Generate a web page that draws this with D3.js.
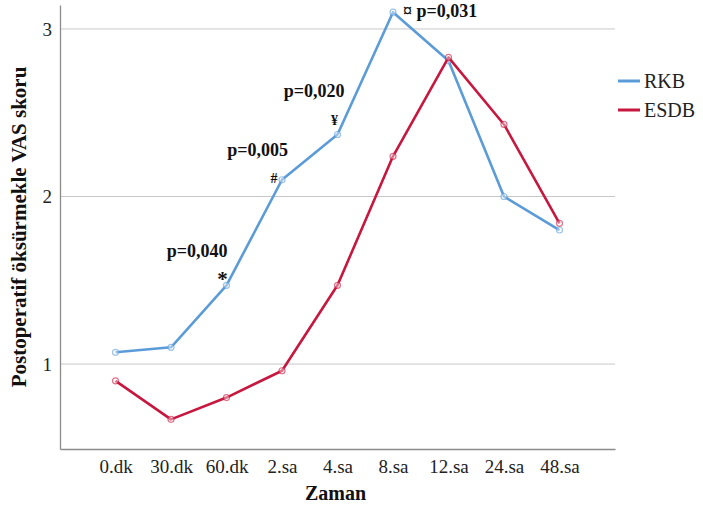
<!DOCTYPE html>
<html>
<head>
<meta charset="utf-8">
<script src="https://cdn.jsdelivr.net/npm/d3@7"></script>
<style>
  body { margin: 0; background: #fff; }
  svg text { font-family: "Liberation Serif", "DejaVu Serif", serif !important; }
</style>
</head>
<body>
<div id="chart"></div>
<script>
// zaman noktaları ve seriler
const categories = ["0.dk", "30.dk", "60.dk", "2.sa", "4.sa", "8.sa", "12.sa", "24.sa", "48.sa"];
const rkb = [1.07, 1.10, 1.47, 2.10, 2.37, 3.10, 2.81, 2.00, 1.80];
const esdb = [0.90, 0.67, 0.80, 0.96, 1.47, 2.24, 2.83, 2.43, 1.84];
const yTicks = [1, 2, 3];
const seriesNames = ["RKB", "ESDB"];
const colors = ["#5b9bd8", "#c8173f"];
// p değerleri notları
const notes = [
  { cat: "60.dk", mark: "*", p: "p=0,040" },
  { cat: "2.sa", mark: "#", p: "p=0,005" },
  { cat: "4.sa", mark: "¥", p: "p=0,020" },
  { cat: "8.sa", mark: "¤", p: "p=0,031" }
];

const width = 703, height = 506;
const margin = { top: 5, right: 88, bottom: 57, left: 60 };

const svg = d3.select("#chart").append("svg")
  .attr("width", width)
  .attr("height", height);

const x = d3.scalePoint()
  .domain(categories)
  .range([margin.left, width - margin.right])
  .padding(1);

const y = d3.scaleLinear()
  .domain([0.493, 3.143])
  .range([height - margin.bottom, margin.top]);

// grid çizgileri
svg.append("g")
  .selectAll("line")
  .data(yTicks)
  .join("line")
  .attr("x1", margin.left)
  .attr("x2", width - margin.right)
  .attr("y1", d => y(d))
  .attr("y2", d => y(d))
  .attr("stroke", "#c8c8c8")
  .attr("stroke-width", 1);

// y ekseni
const yAxis = svg.append("g")
  .attr("transform", `translate(${margin.left},0)`)
  .call(d3.axisLeft(y).tickValues(yTicks).tickSize(0).tickPadding(8).tickFormat(d3.format("d")));
yAxis.attr("font-family", null);
yAxis.select(".domain").attr("stroke", "#8c8c8c").attr("stroke-width", 1.3);
yAxis.selectAll("text").attr("font-size", 19).attr("fill", "#222");

// x ekseni
const xAxis = svg.append("g")
  .attr("transform", `translate(0,${height - margin.bottom})`)
  .call(d3.axisBottom(x).tickSize(0).tickPadding(11));
xAxis.attr("font-family", null);
xAxis.select(".domain").attr("stroke", "#8c8c8c").attr("stroke-width", 1.3);
xAxis.selectAll("text").attr("font-size", 19).attr("fill", "#222");

// eksen başlıkları
svg.append("text")
  .attr("x", (margin.left + width - margin.right) / 2 - 2)
  .attr("y", 500)
  .attr("text-anchor", "middle")
  .attr("font-size", 20)
  .attr("font-weight", "bold")
  .attr("fill", "#111")
  .text("Zaman");

svg.append("text")
  .attr("transform", `translate(26,${(margin.top + height - margin.bottom) / 2}) rotate(-90)`)
  .attr("text-anchor", "middle")
  .attr("font-size", 21)
  .attr("font-weight", "bold")
  .attr("fill", "#111")
  .text("Postoperatif öksürmekle VAS skoru");

// çizgiler
const series = [rkb, esdb];
const line = d3.line()
  .x((d, i) => x(categories[i]))
  .y(d => y(d));

series.forEach((vals, k) => {
  svg.append("path")
    .datum(vals)
    .attr("fill", "none")
    .attr("stroke", colors[k])
    .attr("stroke-width", 2.6)
    .attr("stroke-linejoin", "round")
    .attr("d", line);

  svg.append("g")
    .selectAll("circle")
    .data(vals)
    .join("circle")
    .attr("cx", (d, i) => x(categories[i]))
    .attr("cy", d => y(d))
    .attr("r", 3)
    .attr("fill", "#fff")
    .attr("fill-opacity", 0.4)
    .attr("stroke", colors[k])
    .attr("stroke-opacity", 0.6)
    .attr("stroke-width", 1.2);
});

// notlar
const valueAt = cat => rkb[categories.indexOf(cat)];
const noteG = svg.append("g").attr("font-weight", "bold").attr("fill", "#111");

notes.slice(0, 3).forEach((n, i) => {
  const px = x(n.cat), py = y(valueAt(n.cat));
  const pOff = [[1, -28], [6, -24], [7, -38]][i];
  const mOff = [[-4, 1], [-8, 3], [-3, -10]][i];
  noteG.append("text")
    .attr("x", px + pOff[0])
    .attr("y", py + pOff[1])
    .attr("text-anchor", "end")
    .attr("font-size", 18)
    .text(n.p);
  noteG.append("text")
    .attr("x", px + mOff[0])
    .attr("y", py + mOff[1])
    .attr("text-anchor", "middle")
    .attr("font-size", i === 0 ? 21 : 14)
    .text(n.mark);
});

const last = notes[3];
noteG.append("text")
  .attr("x", x(last.cat) + 10)
  .attr("y", y(valueAt(last.cat)) + 5)
  .attr("font-size", 18)
  .text(last.mark + " " + last.p);

// lejant
const legend = svg.append("g").attr("transform", "translate(618,81)");
seriesNames.forEach((name, i) => {
  const g = legend.append("g").attr("transform", `translate(0,${i * 29})`);
  g.append("line")
    .attr("x1", 0).attr("x2", 22)
    .attr("stroke", colors[i])
    .attr("stroke-width", 3);
  g.append("text")
    .attr("x", 26)
    .attr("y", 7)
    .attr("font-size", 20)
    .attr("fill", "#222")
    .text(name);
});
</script>
</body>
</html>
